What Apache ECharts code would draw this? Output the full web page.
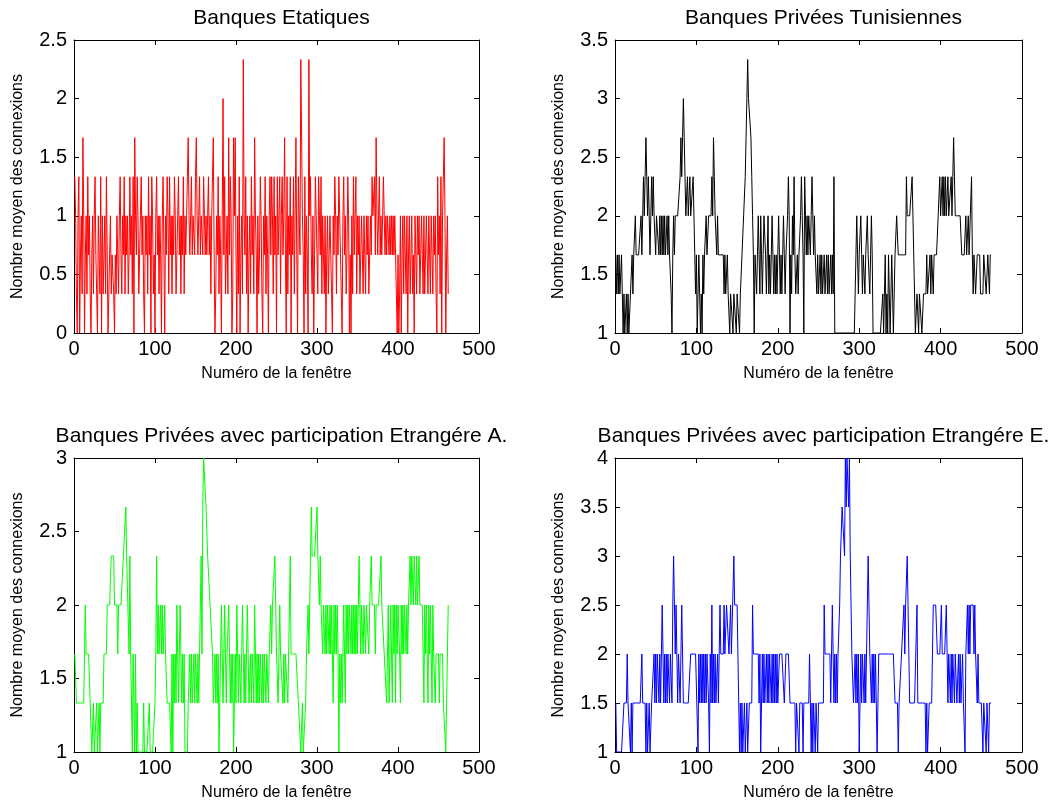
<!DOCTYPE html>
<html>
<head>
<meta charset="utf-8">
<title>Nombre moyen des connexions</title>
<script src="https://cdn.jsdelivr.net/npm/echarts@6.0.0/dist/echarts.min.js"></script>
<style>
  html, body { margin: 0; padding: 0; background: #fff; }
  #chart { width: 1050px; height: 805px; }
</style>
</head>
<body>
<div id="chart"></div>
<script>
// valeurs, en tiers de connexion (0..7 -> 0..2.33)
var etatiques = [
  4,3,1,0,3,4,0,2,3,1,5,3,0,2,3,1,4,2,3,1,0,2,
  3,1,3,4,2,1,0,3,2,1,4,0,3,1,2,3,1,4,2,0,1,2,
  3,1,2,2,1,0,2,1,3,2,1,3,4,2,1,3,2,4,1,3,2,3,
  1,2,4,2,3,1,4,0,5,3,2,4,3,1,2,3,4,2,3,1,0,3,
  2,3,1,4,2,3,0,4,3,1,2,0,3,4,2,3,1,3,2,0,3,4,
  2,0,3,2,4,3,1,4,2,3,1,3,2,4,3,1,2,3,4,2,3,1,
  3,2,4,1,3,2,3,4,5,3,2,3,4,2,3,3,2,4,5,3,2,3,
  4,2,3,3,2,4,3,2,3,2,3,4,2,3,1,3,4,5,2,0,1,3,
  2,4,1,3,2,0,3,6,2,4,1,2,3,1,5,2,4,3,0,1,5,3,
  5,2,0,3,1,4,0,2,3,1,7,3,2,4,1,3,0,2,3,1,4,2,
  3,1,5,3,2,0,3,1,2,4,3,1,0,3,2,4,1,3,2,0,3,4,
  2,4,3,1,4,2,3,0,4,2,3,4,1,3,4,2,3,5,2,0,4,1,
  3,2,4,0,3,2,4,1,3,5,2,0,4,3,2,7,5,3,2,0,4,1,
  3,2,0,7,3,4,2,1,3,0,2,4,3,2,1,4,3,2,4,1,3,2,
  1,3,0,2,3,1,2,3,2,1,0,3,2,4,3,1,3,2,4,3,2,1,
  0,3,4,2,3,1,2,4,3,0,2,0,3,1,4,2,3,4,1,3,2,3,
  1,2,3,2,1,3,2,1,3,2,3,1,2,3,2,4,3,3,4,2,5,3,
  2,3,4,2,3,2,3,4,3,2,3,2,3,3,2,3,2,3,2,3,2,3,
  2,1,0,2,0,1,3,0,2,3,1,3,2,1,3,0,2,3,1,2,3,1,
  2,0,3,2,1,3,2,3,1,2,3,2,1,3,1,2,3,2,1,3,2,1,
  3,2,1,3,2,3,1,0,4,2,3,1,4,0,3,4,5,3,0,2,3,1
];

// en tiers (3 -> 1.0, 10 -> 3.33)
var priveesTun = [
  5,4,5,4,5,4,4,5,4,3,4,3,3,4,3,4,3,3,4,4,5,4,
  5,5,6,5,5,5,5,5,5,6,5,6,7,6,7,8,7,6,7,6,5,6,
  7,6,7,6,6,5,6,6,6,5,6,5,6,5,6,5,6,5,5,6,5,6,
  5,5,4,3,5,6,5,6,6,6,6,6,6,7,8,7,8,9,8,7,6,6,
  7,6,6,7,6,6,6,7,6,5,4,5,3,4,5,4,3,4,3,5,4,5,
  5,6,5,5,6,6,6,6,7,6,8,7,6,6,5,6,5,5,5,5,5,5,
  5,4,5,4,4,5,4,4,3,4,4,4,3,4,4,4,3,4,4,4,3,4,
  4,5,5,6,6,7,8,9,10,9,9,9,8,7,6,5,3,5,5,4,5,6,
  5,4,6,5,4,5,6,6,5,4,5,6,4,5,4,5,6,5,4,5,4,5,
  4,5,6,5,4,5,4,5,6,5,4,5,5,6,7,6,3,5,4,6,5,7,
  5,4,4,5,4,5,5,6,7,6,5,3,7,6,5,6,5,6,6,5,6,7,
  6,5,6,5,5,4,5,4,4,5,4,5,4,4,5,4,4,5,4,5,4,4,
  5,4,5,4,7,3,3,3,3,3,3,3,3,3,3,3,3,3,3,3,3,3,
  3,3,3,3,3,3,3,3,4,5,6,5,4,5,5,6,5,4,5,5,4,5,
  5,6,5,5,4,5,6,5,3,3,3,3,3,3,3,3,3,3,3,3,4,3,
  4,5,3,4,3,5,4,3,4,5,4,3,4,5,5,6,6,5,5,5,5,5,
  5,5,5,5,5,7,6,6,6,6,6,6,7,6,6,4,3,3,4,4,3,4,
  4,4,3,3,4,4,4,4,5,4,4,4,5,4,5,5,4,5,5,5,5,5,
  6,6,7,6,6,7,6,7,6,7,6,6,7,6,6,6,7,6,7,8,7,6,
  6,6,6,6,6,6,6,5,5,5,5,5,6,5,5,6,5,5,5,7,5,4,
  5,5,4,4,5,5,5,5,4,4,4,4,5,5,5,4,4,5,5,4,5,5
];

// en tiers (3 -> 1.0, 9 -> 3.0)
var etrangereA = [
  5,5,4,4,4,4,4,4,4,4,4,4,4,6,5,5,5,5,5,4,4,3,
  3,4,3,3,3,4,3,3,4,3,4,4,4,4,5,5,5,5,6,6,6,6,
  6,7,7,7,7,6,6,6,6,5,6,6,6,6,6,6,7,7,7,8,7,7,
  7,5,7,5,5,3,5,4,3,5,3,4,3,3,3,3,3,3,3,4,3,3,
  3,3,3,3,4,3,3,3,3,3,3,4,5,7,5,6,5,5,6,5,6,5,
  5,6,5,5,4,4,4,4,4,3,5,3,5,4,5,4,6,5,4,5,6,5,
  4,5,4,5,3,3,3,3,4,4,5,4,5,4,4,5,4,5,5,4,5,4,
  5,5,7,5,8,9,9,9,8,8,7,7,7,6,6,6,5,4,4,5,4,5,
  4,5,3,4,5,6,5,4,5,6,5,4,5,5,6,5,4,5,4,5,3,4,
  5,4,6,5,4,5,5,4,5,6,5,4,5,4,5,6,5,4,4,5,4,5,
  5,4,6,5,4,5,4,5,4,5,5,4,5,4,5,5,4,5,5,4,5,5,
  6,5,6,6,6,7,6,5,5,4,5,6,5,5,5,4,5,4,5,5,5,4,
  5,5,7,5,5,5,5,5,5,5,5,5,4,4,4,3,3,4,3,3,3,4,
  5,5,6,5,6,7,8,7,7,7,7,7,7,8,7,7,6,7,6,6,5,6,
  6,5,6,5,6,6,5,6,5,6,5,4,6,5,6,5,6,5,3,5,4,5,
  4,5,6,5,4,6,5,6,5,6,6,5,6,5,6,5,6,5,6,5,6,7,
  6,5,6,6,5,6,6,5,6,6,6,5,6,6,7,6,6,6,6,5,6,6,
  6,6,6,6,7,6,6,6,5,5,5,4,5,6,4,5,6,5,4,6,5,6,
  4,6,5,6,6,5,4,6,5,6,5,6,6,5,6,5,6,6,7,6,7,7,
  6,7,7,6,7,6,6,7,6,6,6,6,5,4,6,5,6,5,4,6,5,6,
  5,4,6,5,5,4,5,5,5,5,4,5,5,5,5,4,4,4,3,4,5,6
];

// en demis (2 -> 1.0, 8 -> 4.0)
var etrangereE = [
  3,2,2,2,2,2,2,2,2,2,3,3,3,3,4,3,3,3,2,3,2,3,
  3,3,3,3,3,3,3,3,3,3,4,3,3,3,3,2,3,2,2,3,2,2,
  3,3,3,4,3,4,3,4,4,3,4,3,4,5,4,3,4,3,4,3,4,4,
  3,4,4,3,5,6,5,4,5,4,3,4,4,3,4,5,4,3,3,3,3,3,
  3,3,3,3,4,4,4,4,4,4,4,4,4,2,4,3,4,3,4,3,4,3,
  4,3,4,4,3,2,4,3,5,3,4,3,4,3,3,4,3,4,5,4,4,4,
  4,5,4,4,5,5,5,4,4,5,4,4,4,6,5,5,5,5,5,3,2,3,
  2,3,2,2,3,2,2,3,2,2,3,3,3,3,5,4,4,4,4,4,4,4,
  3,4,2,3,4,3,4,3,3,4,3,4,3,4,4,3,4,3,4,3,4,3,
  4,3,3,4,4,4,4,4,4,3,3,4,4,4,4,4,3,3,3,3,3,3,
  3,2,3,3,3,2,3,3,3,3,2,3,3,3,3,3,3,3,4,3,2,3,
  2,3,3,2,3,3,2,3,3,3,3,3,3,3,5,4,4,4,4,4,4,4,
  3,4,5,4,3,4,3,4,3,4,4,5,6,6,7,7,7,6,8,7,8,8,
  7,8,6,6,4,4,3,3,4,3,4,3,4,2,3,4,3,4,4,3,4,3,
  4,5,6,5,4,4,3,4,3,4,3,4,3,2,3,4,4,4,4,4,4,4,
  4,4,4,4,4,4,4,4,4,4,4,4,4,3,3,3,3,2,3,3,3,4,
  4,4,5,4,5,5,6,5,4,3,3,3,3,3,3,3,3,3,5,3,3,3,
  3,3,3,3,3,3,3,2,3,2,2,3,3,3,3,3,5,5,5,5,5,4,
  4,4,4,4,5,4,4,4,4,4,5,4,3,4,4,3,4,3,4,4,3,4,
  4,3,3,4,3,4,3,3,4,3,3,2,4,4,5,4,5,4,5,5,5,5,
  4,5,4,4,3,4,3,3,3,3,3,2,3,3,3,2,3,3,2,3,3,3
];

var titres = [
  'Banques Etatiques',
  'Banques Privées Tunisiennes',
  'Banques Privées avec participation Etrangére A.',
  'Banques Privées avec participation Etrangére E.'
];
var couleurs = ['#ff0000', '#000000', '#00ff00', '#0000ff'];
var diviseurs = [3, 3, 3, 2];
var yMin = [0, 1, 1, 1];
var yMax = [2.5, 3.5, 3, 4];
var xTicks = [0, 100, 200, 300, 400, 500];

var nomX = 'Numéro de la fenêtre';
var nomY = 'Nombre moyen des connexions';

(function () {
    var police = '"Liberation Sans", Arial, Helvetica, sans-serif';
    var series = [etatiques, priveesTun, etrangereA, etrangereE];

    // positions des 4 sous-figures (pixels)
    var grids = [
        {left: 74, top: 40, width: 405, height: 293},
        {left: 615, top: 40, width: 407, height: 293},
        {left: 74, top: 458, width: 405, height: 294},
        {left: 615, top: 458, width: 407, height: 294}
    ];

    var option = {
        animation: false,
        backgroundColor: '#fff',
        title: [],
        grid: [],
        xAxis: [],
        yAxis: [],
        series: []
    };

    var axeLigne = {show: true, onZero: false, lineStyle: {color: '#000', width: 1}};
    var tick = {show: true, inside: true, length: 5, lineStyle: {color: '#000'}};

    for (var k = 0; k < 4; k++) {
        var g = grids[k];
        option.grid.push({
            left: g.left, top: g.top, width: g.width, height: g.height,
            containLabel: false, outerBoundsMode: 'none'
        });
        option.title.push({
            text: titres[k],
            left: g.left + g.width / 2,
            top: g.top - 37,
            textAlign: 'center',
            textStyle: {fontFamily: police, fontSize: 21, fontWeight: 'normal', color: '#000'}
        });

        // axe x bas + axe x haut (ticks seulement)
        option.xAxis.push({
            gridIndex: k, type: 'value', position: 'bottom',
            min: xTicks[0], max: xTicks[xTicks.length - 1], interval: 100,
            axisLine: axeLigne, axisTick: tick, splitLine: {show: false},
            axisLabel: {fontFamily: police, fontSize: 20, color: '#000', margin: 6},
            name: nomX, nameLocation: 'middle', nameGap: 33,
            nameTextStyle: {fontFamily: police, fontSize: 16, color: '#000'}
        });
        option.xAxis.push({
            gridIndex: k, type: 'value', position: 'top',
            min: xTicks[0], max: xTicks[xTicks.length - 1], interval: 100,
            axisLine: axeLigne, axisTick: tick, splitLine: {show: false},
            axisLabel: {show: false}
        });

        option.yAxis.push({
            gridIndex: k, type: 'value', position: 'left',
            min: yMin[k], max: yMax[k], interval: 0.5,
            axisLine: axeLigne, axisTick: tick, splitLine: {show: false},
            axisLabel: {fontFamily: police, fontSize: 20, color: '#000', margin: 7},
            name: nomY, nameLocation: 'middle', nameGap: 48,
            nameTextStyle: {fontFamily: police, fontSize: 16, color: '#000'}
        });
        option.yAxis.push({
            gridIndex: k, type: 'value', position: 'right',
            min: yMin[k], max: yMax[k], interval: 0.5,
            axisLine: axeLigne, axisTick: tick, splitLine: {show: false},
            axisLabel: {show: false}
        });

        var d = diviseurs[k];
        var pts = series[k].map(function (v, i) { return [i + 1, v / d]; });
        option.series.push({
            type: 'line',
            xAxisIndex: 2 * k,
            yAxisIndex: 2 * k,
            data: pts,
            showSymbol: false,
            symbol: 'none',
            lineStyle: {color: couleurs[k], width: 1},
            itemStyle: {color: couleurs[k]}
        });
    }

    var chart = echarts.init(document.getElementById('chart'), null, {renderer: 'canvas'});
    chart.setOption(option);
})();
</script>
</body>
</html>
